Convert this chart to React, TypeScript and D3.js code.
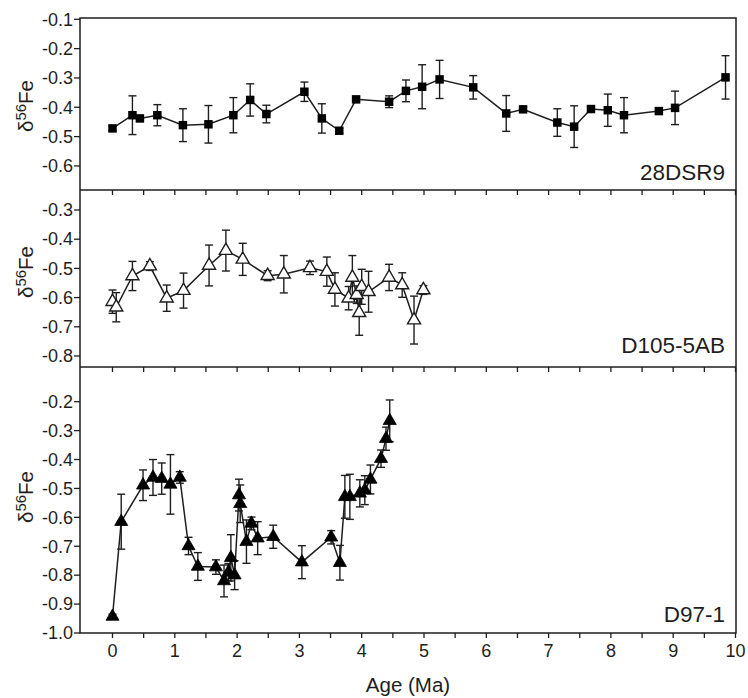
import React from "react";
import * as d3 from "d3";

// ---------- data ----------
const xTicks = [0, 1, 2, 3, 4, 5, 6, 7, 8, 9, 10];
const xMinorTicks = d3.range(0, 10.01, 0.5);

const p1Name = "28DSR9";
const p1Ticks = [-0.1, -0.2, -0.3, -0.4, -0.5, -0.6];
const p1Age = [0.0, 0.32, 0.44, 0.72, 1.13, 1.54, 1.94, 2.21, 2.47, 3.08, 3.36, 3.64, 3.91, 4.44, 4.71, 4.97, 5.25, 5.79, 6.32, 6.59, 7.14, 7.41, 7.68, 7.95, 8.21, 8.77, 9.03, 9.84];
const p1Val = [-0.472, -0.427, -0.438, -0.427, -0.461, -0.458, -0.427, -0.375, -0.423, -0.347, -0.438, -0.48, -0.373, -0.381, -0.344, -0.33, -0.305, -0.332, -0.421, -0.407, -0.452, -0.466, -0.406, -0.41, -0.427, -0.413, -0.402, -0.298];
const p1Err = [0.008, 0.066, 0.01, 0.036, 0.056, 0.064, 0.06, 0.055, 0.03, 0.033, 0.05, 0.008, 0.008, 0.02, 0.037, 0.075, 0.065, 0.04, 0.061, 0.008, 0.047, 0.071, 0.01, 0.055, 0.06, 0.008, 0.057, 0.074];

const p2Name = "D105-5AB";
const p2Ticks = [-0.3, -0.4, -0.5, -0.6, -0.7, -0.8];
const p2Age = [0.0, 0.06, 0.32, 0.6, 0.87, 1.14, 1.55, 1.82, 2.09, 2.49, 2.75, 3.17, 3.44, 3.57, 3.79, 3.85, 3.92, 3.96, 4.0, 4.11, 4.44, 4.65, 4.84, 4.99];
const p2Val = [-0.614, -0.633, -0.526, -0.492, -0.602, -0.576, -0.49, -0.439, -0.469, -0.525, -0.52, -0.498, -0.511, -0.572, -0.602, -0.531, -0.59, -0.652, -0.563, -0.58, -0.531, -0.557, -0.677, -0.574];
const p2Err = [0.04, 0.05, 0.05, 0.015, 0.045, 0.06, 0.07, 0.07, 0.055, 0.017, 0.064, 0.023, 0.05, 0.057, 0.04, 0.075, 0.03, 0.077, 0.06, 0.07, 0.045, 0.042, 0.082, 0.015];

const p3Name = "D97-1";
const p3Ticks = [-0.2, -0.3, -0.4, -0.5, -0.6, -0.7, -0.8, -0.9, -1.0];
const p3Age = [0.0, 0.14, 0.49, 0.65, 0.79, 0.93, 1.08, 1.22, 1.37, 1.66, 1.79, 1.86, 1.9, 1.96, 2.03, 2.05, 2.15, 2.23, 2.33, 2.58, 3.04, 3.51, 3.65, 3.73, 3.81, 3.97, 4.05, 4.14, 4.31, 4.39, 4.45];
const p3Val = [-0.943, -0.615, -0.489, -0.462, -0.466, -0.486, -0.462, -0.699, -0.77, -0.772, -0.82, -0.79, -0.74, -0.8, -0.523, -0.553, -0.684, -0.621, -0.672, -0.667, -0.755, -0.669, -0.757, -0.529, -0.529, -0.517, -0.506, -0.469, -0.397, -0.328, -0.266];
const p3Err = [0.008, 0.095, 0.053, 0.062, 0.054, 0.103, 0.02, 0.03, 0.048, 0.025, 0.055, 0.03, 0.08, 0.05, 0.055, 0.065, 0.075, 0.022, 0.057, 0.04, 0.057, 0.023, 0.06, 0.074, 0.078, 0.047, 0.05, 0.05, 0.03, 0.04, 0.072];

// ---------- layout ----------
const W = 748;
const H = 698;
const left = 80;
const right = 736;
const FONT = "'Liberation Sans', Arial, Helvetica, sans-serif";
const INK = "#1e1e1e";

const x = d3.scaleLinear().domain([0, 10]).range([112.5, 735.5]);

type Panel = {
  name: string;
  ticks: number[];
  age: number[];
  val: number[];
  err: number[];
  top: number;
  bottom: number;
  domain: [number, number];
  marker: "square" | "openTri" | "tri";
  labelY: number;
  nameY: number;
};

const panels: Panel[] = [
  { name: p1Name, ticks: p1Ticks, age: p1Age, val: p1Val, err: p1Err, top: 18, bottom: 190, domain: [-0.682, -0.0956], marker: "square", labelY: 106, nameY: 180 },
  { name: p2Name, ticks: p2Ticks, age: p2Age, val: p2Val, err: p2Err, top: 190, bottom: 367, domain: [-0.8377, -0.2315], marker: "openTri", labelY: 272, nameY: 353 },
  { name: p3Name, ticks: p3Ticks, age: p3Age, val: p3Val, err: p3Err, top: 367, bottom: 633, domain: [-1.0, -0.08], marker: "tri", labelY: 497, nameY: 622 },
];

const squarePath = d3.symbol().type(d3.symbolSquare).size(72)() as string;
const triPath = d3.symbol().type(d3.symbolTriangle).size(74)() as string;

function PanelView({ p }: { p: Panel }) {
  const y = d3.scaleLinear().domain(p.domain).range([p.bottom, p.top]);
  const pts = p.age.map((a, i) => ({ a, v: p.val[i], e: p.err[i] }));
  const line = d3
    .line<{ a: number; v: number }>()
    .x((d) => x(d.a))
    .y((d) => y(d.v));
  const cap = 4;
  return (
    <g>
      {p.ticks.map((t) => (
        <g key={t}>
          <line x1={left - 6} x2={left} y1={y(t)} y2={y(t)} stroke={INK} strokeWidth={1.3} />
          <text x={left - 7} y={y(t)} dy="0.35em" textAnchor="end" fontSize={18} fill={INK} fontFamily={FONT}>
            {t.toFixed(1)}
          </text>
        </g>
      ))}
      {xMinorTicks.map((t) => (
        <line key={t} x1={x(t)} x2={x(t)} y1={p.bottom} y2={p.bottom + 5} stroke={INK} strokeWidth={1.3} />
      ))}
      {pts.map((d, i) => {
        const cx = x(d.a);
        const y1 = y(d.v + d.e);
        const y2 = y(d.v - d.e);
        return (
          <g key={"e" + i} stroke={INK} strokeWidth={1.4}>
            <line x1={cx} x2={cx} y1={y1} y2={y2} />
            <line x1={cx - cap} x2={cx + cap} y1={y1} y2={y1} />
            <line x1={cx - cap} x2={cx + cap} y1={y2} y2={y2} />
          </g>
        );
      })}
      <path d={line(pts) as string} fill="none" stroke={INK} strokeWidth={1.5} />
      {pts.map((d, i) => {
        const tr = `translate(${x(d.a)},${y(d.v)})`;
        if (p.marker === "square")
          return <path key={"m" + i} d={squarePath} transform={tr} fill="#000" />;
        if (p.marker === "openTri")
          return <path key={"m" + i} d={triPath} transform={tr} fill="#fff" stroke={INK} strokeWidth={1.4} />;
        return <path key={"m" + i} d={triPath} transform={tr} fill="#000" stroke="#000" strokeWidth={0.8} />;
      })}
      <text x={725} y={p.nameY} textAnchor="end" fontSize={22.5} fill={INK} fontFamily={FONT}>
        {p.name}
      </text>
      <text
        transform={`translate(33,${p.labelY}) rotate(-90)`}
        textAnchor="middle"
        fontSize={20.5}
        fill={INK}
        fontFamily={FONT}
      >
        δ
        <tspan fontSize={15} dy={-7}>56</tspan>
        <tspan dy={7}>Fe</tspan>
      </text>
    </g>
  );
}

export default function App() {
  return (
    <svg width={W} height={H} style={{ display: "block", position: "absolute", left: 0, top: 0, background: "#fff" }}>
      {panels.map((p) => (
        <PanelView key={p.name} p={p} />
      ))}
      <rect x={left} y={18} width={right - left} height={633 - 18} fill="none" stroke={INK} strokeWidth={1.5} />
      <line x1={left} x2={right} y1={190} y2={190} stroke={INK} strokeWidth={1.5} />
      <line x1={left} x2={right} y1={367} y2={367} stroke={INK} strokeWidth={1.5} />
      {xTicks.map((t) => (
        <text key={t} x={x(t)} y={657} textAnchor="middle" fontSize={18} fill={INK} fontFamily={FONT}>
          {t}
        </text>
      ))}
      <text x={(left + right) / 2} y={692} textAnchor="middle" fontSize={20.5} fill={INK} fontFamily={FONT}>
        Age (Ma)
      </text>
    </svg>
  );
}
